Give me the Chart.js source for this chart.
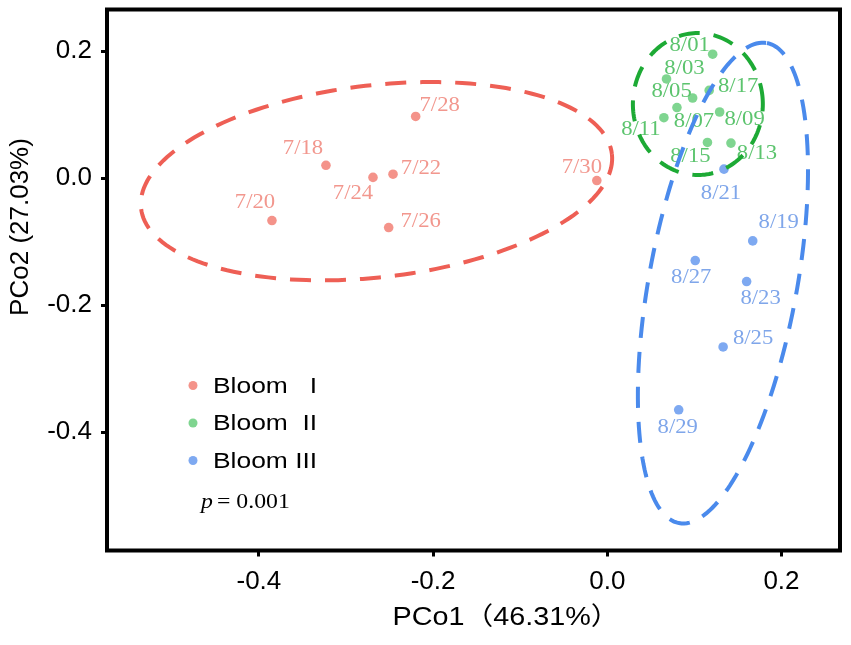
<!DOCTYPE html>
<html>
<head>
<meta charset="utf-8">
<script src="https://cdn.jsdelivr.net/npm/chart.js@4.4.1/dist/chart.umd.min.js"></script>
<style>
    html, body { margin: 0; padding: 0; background: #fff; }
</style>
</head>
<body>
<canvas id="grafico" width="851" height="645"></canvas>
<script>
// ******************* DADOS *******************

let bloom1Datas = ['7/18', '7/20', '7/22', '7/24', '7/26', '7/28', '7/30']
let bloom1X = [-0.323, -0.385, -0.246, -0.269, -0.251, -0.220, -0.012]
let bloom1Y = [0.020, -0.067, 0.006, 0.001, -0.078, 0.097, -0.004]

let bloom2Datas = ['8/01', '8/03', '8/05', '8/07', '8/09', '8/11', '8/13', '8/15', '8/17']
let bloom2X = [0.121, 0.068, 0.098, 0.080, 0.129, 0.065, 0.142, 0.115, 0.117]
let bloom2Y = [0.195, 0.156, 0.126, 0.111, 0.104, 0.095, 0.055, 0.056, 0.138]

let bloom3Datas = ['8/19', '8/21', '8/23', '8/25', '8/27', '8/29']
let bloom3X = [0.167, 0.134, 0.160, 0.133, 0.101, 0.082]
let bloom3Y = [-0.099, 0.014, -0.163, -0.266, -0.130, -0.365]

let grupos = ['Bloom   I', 'Bloom  II', 'Bloom III']

// elipses: centro e dois semi-eixos (unidades dos dados)
let elipse1 = { centro: [-0.265, -0.005], u: [0.2703, 0.0428], v: [0.0126, -0.1502] }
let elipse2 = { centro: [0.104, 0.1165], u: [0.0746, 0], v: [0, 0.1118] }
let elipse3 = { centro: [0.1328, -0.1654], u: [0.0505, 0.378], v: [0.0836, -0.021] }

let ticksX = [-0.4, -0.2, 0.0, 0.2]
let ticksY = [0.2, 0.0, -0.2, -0.4]

let tituloX = 'PCo1（46.31%）'
let tituloY = 'PCo2 (27.03%)'
let textoP = '= 0.001'

// ******************* ESTILO *******************

let coresPonto = ['rgba(242,128,118,0.85)', 'rgba(104,206,124,0.85)', 'rgba(112,160,240,0.9)']
let coresTexto = ['#F2978E', '#5CC46E', '#7FA6EA']
let coresElipse = ['#EE5F55', '#1DAA35', '#4A8AEC']

// deslocamento dos rótulos em pixels (como o ggrepel deixou)
let desloc = [
    [[-23, -17], [-17, -18], [28, -6], [-20, 16], [32, -6], [24, -11], [-15, -13]],
    [[-23, -9], [18, -10], [-21, -7], [17, 14], [25, 7], [-23, 12], [26, 10], [-17, 14], [29, -4]],
    [[26, -18], [-3, 24], [14, 17], [30, -8], [-4, 17], [-1, 18]]
]

let monta = (xs, ys, datas) => xs.map((x, i) => ({ x: x, y: ys[i], rotulo: datas[i] }))

let elipses = [elipse1, elipse2, elipse3]

// a figura original está esticada na horizontal, então o texto também
let escreve = (ctx, txt, x, y, fator) => {
    ctx.save()
    ctx.translate(x, y)
    ctx.scale(fator, 1)
    ctx.fillText(txt, 0, 0)
    ctx.restore()
}

let pluginDesenho = {
    id: 'desenho',
    afterDatasetsDraw(chart) {
        let ctx = chart.ctx
        let sx = chart.scales.x
        let sy = chart.scales.y

        // rótulos das datas
        ctx.save()
        ctx.font = '21px "Liberation Serif", serif'
        ctx.textAlign = 'center'
        ctx.textBaseline = 'middle'
        chart.data.datasets.forEach((ds, k) => {
            ctx.fillStyle = coresTexto[k]
            ds.data.forEach((p, i) => {
                let px = sx.getPixelForValue(p.x) + desloc[k][i][0]
                let py = sy.getPixelForValue(p.y) + desloc[k][i][1]
                escreve(ctx, p.rotulo, px, py, 1.08)
            })
        })
        ctx.restore()

        // elipses tracejadas
        ctx.save()
        ctx.lineWidth = 4
        ctx.setLineDash([21, 14])
        elipses.forEach((e, k) => {
            ctx.strokeStyle = coresElipse[k]
            ctx.beginPath()
            for (let j = 0; j <= 180; j++) {
                let t = j / 180 * Math.PI * 2
                let x = e.centro[0] + Math.cos(t) * e.u[0] + Math.sin(t) * e.v[0]
                let y = e.centro[1] + Math.cos(t) * e.u[1] + Math.sin(t) * e.v[1]
                let px = sx.getPixelForValue(x)
                let py = sy.getPixelForValue(y)
                if (j === 0) ctx.moveTo(px, py)
                else ctx.lineTo(px, py)
            }
            ctx.stroke()
        })
        ctx.restore()

        // legenda dentro do painel
        let a = chart.chartArea
        ctx.save()
        ctx.font = '22px "Liberation Sans", Arial, sans-serif'
        ctx.textBaseline = 'middle'
        chart.data.datasets.forEach((ds, k) => {
            let ly = a.top + 376 + k * 37.5
            ctx.fillStyle = coresPonto[k]
            ctx.beginPath()
            ctx.arc(a.left + 86, ly, 4.5, 0, Math.PI * 2)
            ctx.fill()
            ctx.fillStyle = '#000'
            escreve(ctx, ds.label, a.left + 106, ly + 1, 1.2)
        })

        // valor de p
        ctx.textBaseline = 'alphabetic'
        ctx.font = 'italic 22px "Liberation Serif", serif'
        escreve(ctx, 'p', a.left + 94, a.top + 498, 1.08)
        ctx.font = '22px "Liberation Serif", serif'
        escreve(ctx, textoP, a.left + 110, a.top + 498, 1.08)
        ctx.restore()
    },
    afterDraw(chart) {
        let ctx = chart.ctx
        let a = chart.chartArea
        ctx.save()
        // moldura
        ctx.strokeStyle = '#000'
        ctx.lineWidth = 4
        ctx.strokeRect(a.left, a.top, a.right - a.left, a.bottom - a.top)

        // títulos dos eixos
        ctx.fillStyle = '#000'
        ctx.textAlign = 'center'
        ctx.textBaseline = 'middle'
        ctx.font = '25px "Liberation Sans", "Noto Sans CJK SC", sans-serif'
        escreve(ctx, tituloX, 506, 618, 1.15)
        ctx.font = '26px "Liberation Sans", sans-serif'
        ctx.translate(21, 227)
        ctx.rotate(-Math.PI / 2)
        ctx.fillText(tituloY, 0, 0)
        ctx.restore()
    }
}

let ctx = document.querySelector('#grafico')

let grafico = new Chart(ctx, {
    type: 'scatter',
    data: {
        datasets: [
            { label: grupos[0], data: monta(bloom1X, bloom1Y, bloom1Datas), backgroundColor: coresPonto[0] },
            { label: grupos[1], data: monta(bloom2X, bloom2Y, bloom2Datas), backgroundColor: coresPonto[1] },
            { label: grupos[2], data: monta(bloom3X, bloom3Y, bloom3Datas), backgroundColor: coresPonto[2] }
        ]
    },
    options: {
        responsive: false,
        animation: false,
        devicePixelRatio: 1,
        layout: { padding: { top: 9.5, right: 11, left: 0, bottom: 0 } },
        elements: { point: { radius: 4.8, borderWidth: 0, hoverRadius: 4.8 } },
        plugins: { legend: { display: false }, tooltip: { enabled: false } },
        scales: {
            x: {
                type: 'linear',
                min: -0.5744,
                max: 0.2672,
                afterBuildTicks: (s) => { s.ticks = ticksX.map(v => ({ value: v })) },
                afterFit: (s) => { s.height = 94.5; s.paddingLeft = 0; s.paddingRight = 0 },
                border: { display: false },
                grid: { drawOnChartArea: false, drawTicks: true, tickLength: 6, tickWidth: 3, tickColor: '#000' },
                ticks: {
                    color: '#000',
                    padding: 10,
                    font: { family: '"Liberation Sans", Arial, sans-serif', size: 26 },
                    callback: (v) => v.toFixed(1)
                }
            },
            y: {
                type: 'linear',
                min: -0.5866,
                max: 0.2654,
                afterBuildTicks: (s) => { s.ticks = ticksY.map(v => ({ value: v })) },
                afterFit: (s) => { s.width = 107; s.paddingTop = 0; s.paddingBottom = 0 },
                border: { display: false },
                grid: { drawOnChartArea: false, drawTicks: true, tickLength: 6, tickWidth: 3, tickColor: '#000' },
                ticks: {
                    color: '#000',
                    padding: 9,
                    font: { family: '"Liberation Sans", Arial, sans-serif', size: 26 },
                    callback: (v) => v.toFixed(1)
                }
            }
        }
    },
    plugins: [pluginDesenho]
})
</script>
</body>
</html>
